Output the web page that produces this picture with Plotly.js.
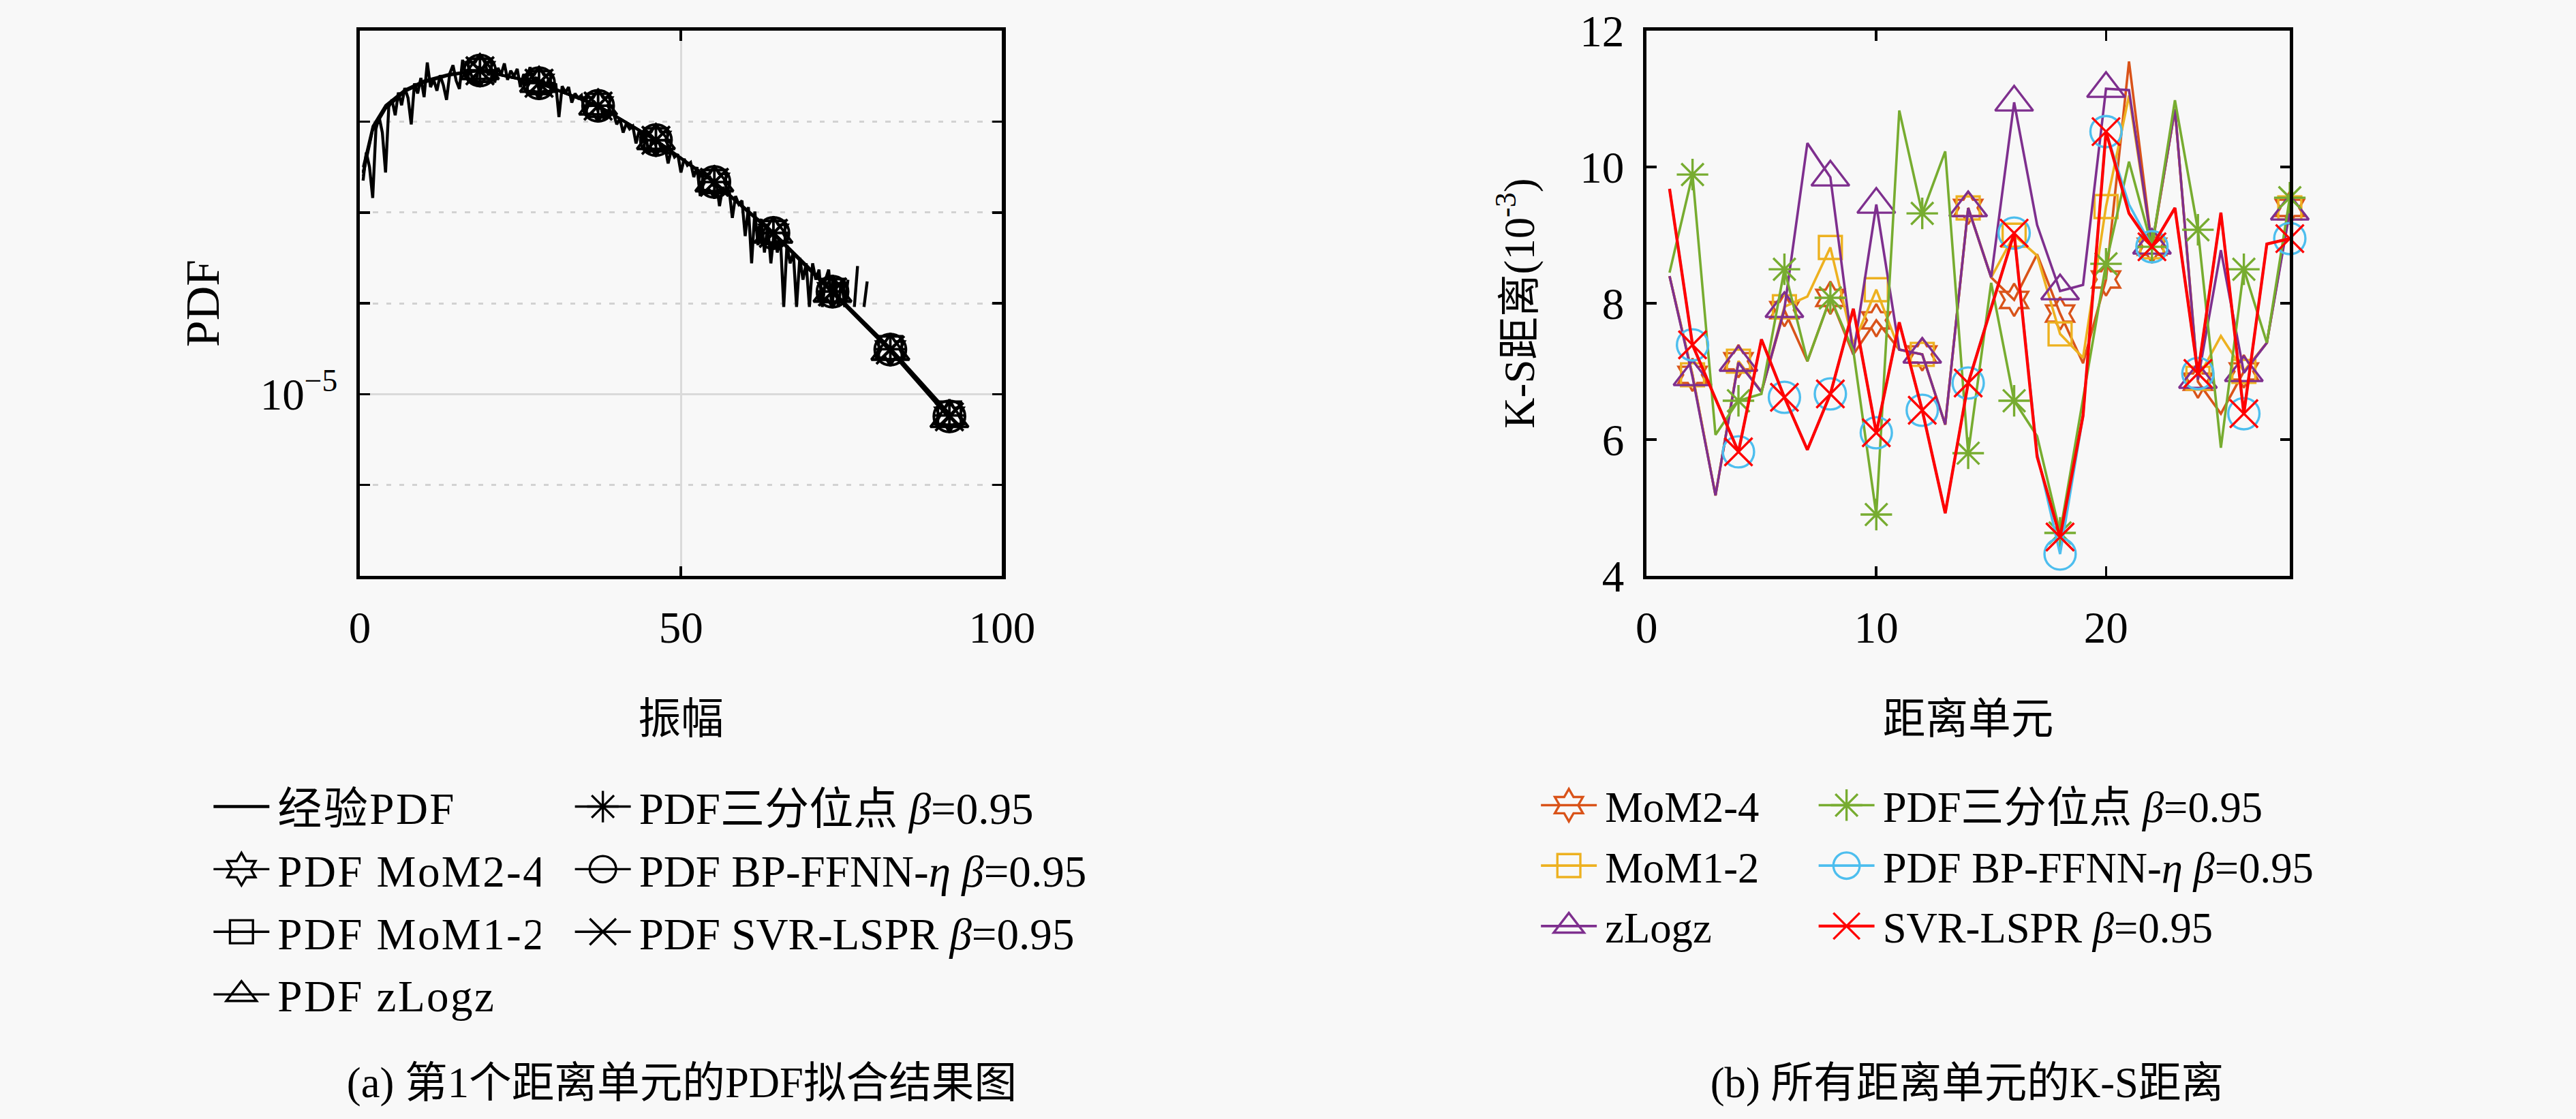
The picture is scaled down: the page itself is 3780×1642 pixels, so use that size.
<!DOCTYPE html>
<html>
<head>
<meta charset="utf-8">
<script src="https://cdn.plot.ly/plotly-3.0.1.min.js"></script>
<style>
  html, body { margin: 0; padding: 0; background: #f8f8f8; overflow: hidden; }
  #wrap { width: 3780px; height: 1642px; overflow: hidden; background: #f8f8f8; }
  #chart { width: 1568px; height: 681px; transform: scale(2.410714); transform-origin: 0 0; }
  #chart .legendtext { letter-spacing: 1px; }
</style>
</head>
<body>
<div id="wrap"><div id="chart"></div></div>
<script>
// ================= Panel (a): PDF of range cell 1 =================
// amplitude bins of the empirical PDF
const empAmp = [0.5,1,1.5,2,2.5,3,3.5,4,4.5,5,5.5,6,6.5,7,7.5,8,8.5,9,9.5,10,
  10.5,11,11.5,12,12.5,13,13.5,14,14.5,15,15.5,16,16.5,17,17.5,18,18.5,19,19.5,20,
  20.5,21,21.5,22,22.5,23,23.5,24,24.5,25,25.5,26,26.5,27,27.5,28,28.5,29,29.5,30,
  30.5,31,31.5,32,32.5,33,33.5,34,34.5,35,35.5,36,36.5,37,37.5,38,38.5,39,39.5,40,
  40.5,41,41.5,42,42.5,43,43.5,44,44.5,45,45.5,46,46.5,47,47.5,48,48.5,49,49.5,50,
  50.5,51,51.5,52,52.5,53,53.5,54,54.5,55,55.5,56,56.5,57,57.5,58,58.5,59,59.5,60,
  60.5,61,61.5,62,62.5,63,63.5,64,64.5,65,65.5,66,66.5,67,67.5,68,68.5,69,69.5,70,
  70.5,71,71.5,72,72.5,73,73.5,74,74.5,75,75.5,76,76.5,77,77.5,78,78.5,79];
const empLog10 = [-2.65,-2.34,-2.50,-2.84,-2.08,-1.95,-2.12,-2.56,-1.84,-1.76,
  -1.93,-1.68,-1.82,-1.63,-1.74,-2.03,-1.58,-1.69,-1.52,-1.73,
  -1.35,-1.62,-1.54,-1.66,-1.49,-1.60,-1.76,-1.47,-1.38,-1.55,
  -1.64,-1.32,-1.52,-1.43,-1.51,-1.60,-1.39,-1.46,-1.36,-1.49,
  -1.42,-1.57,-1.41,-1.48,-1.36,-1.54,-1.44,-1.50,-1.42,-1.62,
  -1.48,-1.53,-1.40,-1.56,-1.51,-1.70,-1.54,-1.60,-1.52,-1.63,
  -1.58,-1.95,-1.61,-1.68,-1.62,-1.79,-1.69,-1.74,-1.71,-1.90,
  -1.77,-1.82,-1.79,-1.87,-1.83,-1.98,-1.87,-1.93,-1.91,-2.03,
  -1.97,-2.12,-2.02,-2.08,-2.05,-2.24,-2.10,-2.18,-2.14,-2.36,
  -2.18,-2.25,-2.21,-2.31,-2.27,-2.46,-2.31,-2.39,-2.36,-2.56,
  -2.41,-2.48,-2.45,-2.61,-2.50,-2.82,-2.56,-2.62,-2.61,-2.71,
  -2.66,-2.93,-2.72,-2.80,-2.75,-3.06,-2.82,-2.91,-2.87,-3.26,
  -2.94,-3.56,-2.99,-3.36,-3.07,-3.44,-3.14,-3.56,-3.22,-3.44,
  -3.30,-4.04,-3.36,-3.56,-3.44,-4.04,-3.50,-3.74,-3.56,-4.04,
  -3.56,-3.74,-3.63,-4.04,-3.74,-3.63,-4.04,-3.74,-4.04,-3.74,
  -4.04,-3.74,null,-4.04,-3.59,null,-4.04,-3.76];

// fitted PDFs (log10), evaluated at these amplitudes
const ampFit = [0.5,2,4,7,10,14,18.7,27.9,37.1,46.1,55.2,64.4,73.6,82.6,91.8];
const fitMoM24Log10  = [-2.55,-2.08,-1.84,-1.66,-1.56,-1.48,-1.437,-1.575,-1.825,-2.204,-2.665,-3.225,-3.870,-4.510,-5.240];
const fitMoM12Log10  = [-2.50,-2.05,-1.82,-1.65,-1.55,-1.475,-1.435,-1.570,-1.820,-2.200,-2.660,-3.220,-3.860,-4.490,-5.210];
const fitZLogzLog10  = [-2.60,-2.10,-1.86,-1.67,-1.57,-1.49,-1.440,-1.580,-1.830,-2.210,-2.675,-3.240,-3.890,-4.530,-5.270];
const fitTertLog10   = [-2.56,-2.07,-1.83,-1.66,-1.56,-1.48,-1.435,-1.575,-1.825,-2.205,-2.665,-3.225,-3.870,-4.505,-5.235];
const fitBPLog10     = [-2.55,-2.08,-1.84,-1.66,-1.56,-1.48,-1.438,-1.577,-1.826,-2.203,-2.664,-3.226,-3.872,-4.510,-5.245];
const fitSVRLog10    = [-2.57,-2.09,-1.85,-1.66,-1.56,-1.48,-1.440,-1.578,-1.828,-2.206,-2.668,-3.230,-3.875,-4.515,-5.250];
const FIT_MARKER_FROM = 6;   // markers are drawn from this sample on

// ================= Panel (b): K-S distance of all range cells =================
const rangeCell = [1,2,3,4,5,6,7,8,9,10,11,12,13,14,15,16,17,18,19,20,21,22,23,24,25,26,27,28];
const ksMoM24 = [8.40,6.95,5.18,7.15,6.70,7.90,7.15,8.08,7.25,7.75,7.32,7.25,6.22,9.40,8.38,8.05,8.72,7.85,7.12,8.35,11.55,8.83,10.85,6.85,6.38,7.00,7.42,9.40];
const ksMoM12 = [8.40,6.95,5.18,7.15,6.70,7.95,8.10,8.82,7.40,8.20,7.32,7.25,6.22,9.40,8.38,9.00,8.70,7.55,7.20,9.42,11.05,8.83,10.85,6.90,7.52,7.00,7.42,9.40];
const ksZLogz = [8.40,6.92,5.18,7.13,6.70,7.92,10.35,9.85,7.25,9.45,7.32,7.25,6.22,9.40,8.38,10.95,9.15,8.18,8.27,11.15,11.13,8.85,10.85,6.88,8.78,6.98,7.42,9.35];
const ksTert  = [8.45,9.89,6.07,6.57,6.67,8.50,7.15,8.08,7.30,4.90,10.83,9.32,10.23,5.80,8.30,6.57,6.05,4.63,6.60,8.58,10.08,8.83,10.98,9.08,5.88,8.50,7.42,9.55];
const ksBP    = [9.68,7.39,6.60,5.82,7.47,6.62,5.85,6.67,7.92,6.10,7.72,6.43,4.92,6.83,7.95,9.03,5.80,4.32,6.35,10.52,9.45,8.83,9.40,6.97,9.33,6.38,8.87,8.95];
const ksSVR   = [9.68,7.39,6.60,5.82,7.47,6.62,5.85,6.67,7.92,6.10,7.72,6.43,4.92,6.83,7.93,9.03,5.75,4.57,6.35,10.52,9.32,8.83,9.40,6.97,9.33,6.38,8.87,8.95];

// ================= styles =================
const FONT = '"Liberation Serif", "Noto Sans CJK SC", serif';
const methods = [
  {key:'MoM24', nameA:'PDF MoM2-4', nameB:'MoM2-4', symbol:'hexagram-open', size:15, color:'#D95319', fitA:fitMoM24Log10, ks:ksMoM24, col:1},
  {key:'MoM12', nameA:'PDF MoM1-2', nameB:'MoM1-2', symbol:'square-open', size:14, color:'#EDB120', fitA:fitMoM12Log10, ks:ksMoM12, col:1},
  {key:'zLogz', nameA:'PDF zLogz', nameB:'zLogz', symbol:'triangle-up-open', size:20, color:'#7E2F8E', fitA:fitZLogzLog10, ks:ksZLogz, col:1},
  {key:'Tert', nameA:'PDF三分位点 <i>β</i>=0.95', nameB:'PDF三分位点 <i>β</i>=0.95', symbol:'asterisk-open', size:16, color:'#77AC30', fitA:fitTertLog10, ks:ksTert, col:2},
  {key:'BP', nameA:'PDF BP-FFNN-<i>η</i> <i>β</i>=0.95', nameB:'PDF BP-FFNN-<i>η</i> <i>β</i>=0.95', symbol:'circle-open', size:19, color:'#4DBEEE', fitA:fitBPLog10, ks:ksBP, col:2},
  {key:'SVR', nameA:'PDF SVR-LSPR <i>β</i>=0.95', nameB:'SVR-LSPR <i>β</i>=0.95', symbol:'x-thin-open', size:17, color:'#FF0000', fitA:fitSVRLog10, ks:ksSVR, col:2}
];

function toPdf(arr){ return arr.map(v => v === null ? null : Math.pow(10, v)); }

const traces = [];
// --- panel (a) ---
traces.push({
  x: empAmp, y: toPdf(empLog10), type:'scatter', mode:'lines', name:'经验PDF',
  line:{color:'#000', width:1.8}, xaxis:'x', yaxis:'y', legend:'legend', showlegend:true
});
methods.forEach(m => {
  const yv = toPdf(m.fitA);
  traces.push({x: ampFit, y: yv, type:'scatter', mode:'lines', line:{color:'#000', width:1.4},
    xaxis:'x', yaxis:'y', showlegend:false, hoverinfo:'skip'});
  traces.push({x: ampFit.slice(FIT_MARKER_FROM), y: yv.slice(FIT_MARKER_FROM), type:'scatter', mode:'markers',
    marker:{symbol:m.symbol, size:m.size, color:'#000', line:{width:1.6}}, cliponaxis:false,
    xaxis:'x', yaxis:'y', showlegend:false});
  traces.push({x:[null], y:[null], type:'scatter', mode:'lines+markers', name:m.nameA,
    line:{color:'#000', width:1.4}, marker:{symbol:m.symbol, size:m.size, color:'#000', line:{width:1.4}},
    xaxis:'x', yaxis:'y', legend: m.col === 1 ? 'legend' : 'legend2', showlegend:true});
});
// --- panel (b) ---
methods.forEach(m => {
  const lw = m.key === 'SVR' ? 1.8 : 1.5;
  traces.push({x: rangeCell, y: m.ks, type:'scatter', mode:'lines', line:{color:m.color, width:lw},
    xaxis:'x2', yaxis:'y2', showlegend:false});
  const mx = [], my = [];
  rangeCell.forEach((c, i) => { if (c % 2 === 0) { mx.push(c); my.push(m.ks[i]); } });
  traces.push({x: mx, y: my, type:'scatter', mode:'markers', cliponaxis:false,
    marker:{symbol:m.symbol, size:m.size, color:m.color, line:{width:1.4}},
    xaxis:'x2', yaxis:'y2', showlegend:false});
  traces.push({x:[null], y:[null], type:'scatter', mode:'lines+markers', name:m.nameB,
    line:{color:m.color, width:lw}, marker:{symbol:m.symbol, size:m.size, color:m.color, line:{width:1.4}},
    xaxis:'x2', yaxis:'y2', legend: m.col === 1 ? 'legend3' : 'legend4', showlegend:true});
});

const axisCommon = {
  ticks:'inside', ticklen:6, tickwidth:1.5, tickcolor:'#000', mirror:'ticks',
  showline:true, linewidth:2.2, linecolor:'#000', zeroline:false,
  tickfont:{family:FONT, size:27, color:'#000'}, ticklabelstandoff:6
};
const legendCommon = {
  xanchor:'left', yanchor:'top', bgcolor:'rgba(0,0,0,0)', borderwidth:0,
  font:{family:FONT, size:27, color:'#000'}, itemwidth:34, traceorder:'normal', tracegroupgap:0
};
const legendRight = Object.assign({}, legendCommon, {font:{family:FONT, size:26, color:'#000'}});

const layout = {
  width:1568, height:681,
  margin:{l:0, r:0, t:0, b:0},
  paper_bgcolor:'#f8f8f8', plot_bgcolor:'#f8f8f8',
  font:{family:FONT, size:26, color:'#000'},
  showlegend:true,
  xaxis: Object.assign({}, axisCommon, {
    domain:[0.1397, 0.3890], range:[0, 100], tickvals:[0, 50, 100], anchor:'y',
    showgrid:true, gridcolor:'#dadada', gridwidth:1.2,
    title:{text:'振幅', standoff:32, font:{family:FONT, size:26}}
  }),
  yaxis: Object.assign({}, axisCommon, {
    domain:[0.4853, 0.9725], type:'log', range:[-7, -1], anchor:'x',
    tickvals:[1e-5], ticktext:['10<sup>−5</sup>'],
    showgrid:true, gridcolor:'#dadada', gridwidth:1.2,
    minor:{tickmode:'array', tickvals:[1e-6, 1e-4, 1e-3, 1e-2], ticks:'inside', ticklen:6, tickwidth:1.5, tickcolor:'#000',
           showgrid:true, gridcolor:'#d2d2d2', gridwidth:1.2, griddash:'3px,5px'},
    title:{text:'PDF', standoff:16, font:{family:FONT, size:29}}
  }),
  xaxis2: Object.assign({}, axisCommon, {
    domain:[0.6392, 0.8889], range:[0, 28], tickvals:[0, 10, 20], anchor:'y2', showgrid:false,
    title:{text:'距离单元', standoff:32, font:{family:FONT, size:26}}
  }),
  yaxis2: Object.assign({}, axisCommon, {
    domain:[0.4853, 0.9725], range:[4, 12], tickvals:[4, 6, 8, 10, 12], anchor:'x2', showgrid:false,
    title:{text:'K-S距离(10<sup>-3</sup>)', standoff:20, font:{family:FONT, size:26}}
  }),
  legend:  Object.assign({}, legendCommon, {x:0.0797, y:0.3144}),
  legend2: Object.assign({}, legendCommon, {x:0.2200, y:0.3144}),
  legend3: Object.assign({}, legendRight, {x:0.5950, y:0.3147}),
  legend4: Object.assign({}, legendRight, {x:0.7028, y:0.3147}),
  annotations: [
    {text:'(a) 第1个距离单元的PDF拟合结果图', xref:'paper', yref:'paper', x:0.2647, y:0.031,
     xanchor:'center', yanchor:'middle', showarrow:false, font:{family:FONT, size:26, color:'#000'}},
    {text:'(b) 所有距离单元的K-S距离', xref:'paper', yref:'paper', x:0.7634, y:0.031,
     xanchor:'center', yanchor:'middle', showarrow:false, font:{family:FONT, size:26, color:'#000'}}
  ]
};

Plotly.newPlot('chart', traces, layout, {staticPlot:true, displayModeBar:false, responsive:false});
</script>
</body>
</html>
